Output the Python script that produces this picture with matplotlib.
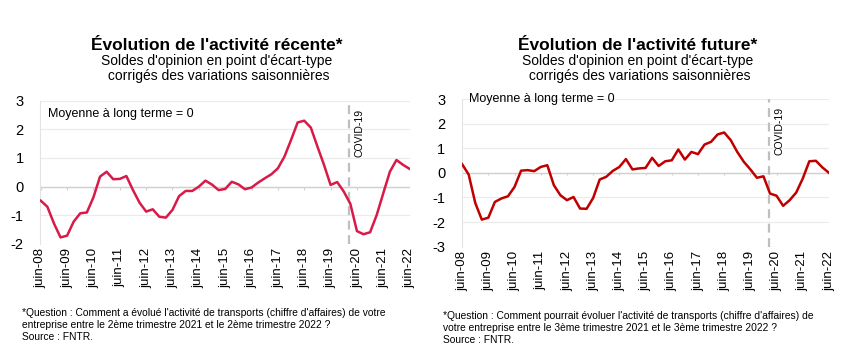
import numpy as np
import matplotlib
matplotlib.use("Agg")
import matplotlib.pyplot as plt

plt.rcParams['font.family'] = ['Liberation Sans', 'DejaVu Sans']
plt.rcParams['axes.unicode_minus'] = False

# quarterly data, juin-08 .. juin-22 (57 quarters)
recente = [-0.49, -0.70, -1.28, -1.77, -1.71, -1.22, -0.93, -0.90, -0.37, 0.35,
           0.52, 0.26, 0.27, 0.37, -0.12, -0.56, -0.87, -0.79, -1.05, -1.08,
           -0.81, -0.33, -0.15, -0.15, 0.00, 0.21, 0.07, -0.12, -0.08, 0.17,
           0.08, -0.09, -0.03, 0.14, 0.29, 0.43, 0.64, 1.05, 1.63, 2.24,
           2.30, 2.06, 1.40, 0.76, 0.06, 0.16, -0.17, -0.60, -1.55, -1.66,
           -1.59, -0.99, -0.23, 0.52, 0.93, 0.76, 0.62]
future = [0.35, -0.07, -1.22, -1.90, -1.82, -1.18, -1.04, -0.95, -0.57, 0.09,
          0.11, 0.07, 0.24, 0.31, -0.50, -0.91, -1.11, -0.98, -1.45, -1.46,
          -1.02, -0.27, -0.16, 0.08, 0.24, 0.56, 0.14, 0.18, 0.20, 0.61,
          0.28, 0.47, 0.51, 0.95, 0.54, 0.85, 0.76, 1.15, 1.26, 1.56,
          1.64, 1.33, 0.85, 0.45, 0.14, -0.20, -0.14, -0.84, -0.93, -1.34,
          -1.11, -0.80, -0.23, 0.47, 0.49, 0.22, 0.00]
tick_labels = ['juin-%02d' % y for y in range(8, 23)]
covid_q = 46.85

titles = ["Évolution de l'activité récente*", "Évolution de l'activité future*"]
subtitle = "Soldes d'opinion en point d'écart-type\n corrigés des variations saisonnières"
notes = [
    "*Question : Comment a évolué l'activité de transports (chiffre d'affaires) de votre\n"
    "entreprise entre le 2ème trimestre 2021 et le 2ème trimestre 2022 ?\nSource : FNTR.",
    "*Question : Comment pourrait évoluer l'activité de transports (chiffre d'affaires) de\n"
    "votre entreprise entre le 3ème trimestre 2021 et le 3ème trimestre 2022 ?\nSource : FNTR.",
]

fig = plt.figure(figsize=(8.6, 3.62), dpi=100)
panels = [
    dict(rect=[0.047, 0.326, 0.4297, 0.396], data=recente, color='#D91A48',
         ylim=(-2, 3), title_x=0.252, note_x=0.026, note_y=0.102,
         moy=(0.02, 0.91), covid_y=0.94),
    dict(rect=[0.537, 0.3185, 0.4273, 0.408], data=future, color='#C00000',
         ylim=(-3, 3), title_x=0.741, note_x=0.515, note_y=0.094,
         moy=(0.02, 1.0), covid_y=0.95),
]

for i, p in enumerate(panels):
    ax = fig.add_axes(p['rect'])
    x = np.arange(len(p['data']))
    ax.set_xlim(-0.05, len(x) - 1 + 0.05)
    ax.set_ylim(*p['ylim'])
    ax.set_yticks(np.arange(p['ylim'][0], p['ylim'][1] + 1, 1))
    ax.grid(axis='y', color='#EBEBEB', lw=0.8)
    ax.set_axisbelow(True)
    for s in ['top', 'right', 'bottom']:
        ax.spines[s].set_visible(False)
    ax.spines['left'].set_color('#E3E3E3')
    ax.tick_params(axis='y', length=0, labelsize=10.5, pad=12)
    ticks = x[::4]
    ax.set_xticks(ticks)
    ax.set_xticklabels(tick_labels, rotation=90, fontsize=9.5)
    ax.tick_params(axis='x', length=0, pad=3)
    # axis line at zero with tick marks
    ax.axhline(0, color='#D0D0D0', lw=1.0, zorder=1)
    ax.vlines(ticks, -0.1, 0, color='#D0D0D0', lw=0.8, zorder=1)
    ax.axvline(covid_q, color='#BFBFBF', lw=1.6, ls=(0, (4, 2.5)), zorder=2)
    ax.text(covid_q + 0.8, p['covid_y'], 'COVID-19', rotation=90, fontsize=7.5,
            transform=ax.get_xaxis_transform(), va='top', ha='left')
    ax.plot(x, p['data'], color=p['color'], lw=1.8, zorder=3)
    ax.text(p['moy'][0], p['moy'][1], 'Moyenne à long terme = 0', fontsize=9,
            transform=ax.transAxes, va='center', ha='left')

    fig.text(p['title_x'], 0.875, titles[i], fontsize=12.5, fontweight='bold',
             ha='center', va='center')
    fig.text(p['title_x'], 0.81, subtitle, fontsize=10, ha='center', va='center',
             linespacing=1.1)
    fig.text(p['note_x'], p['note_y'], notes[i], fontsize=7.4, ha='left',
             va='center', linespacing=1.25)

fig.savefig('out.png', dpi=100)
